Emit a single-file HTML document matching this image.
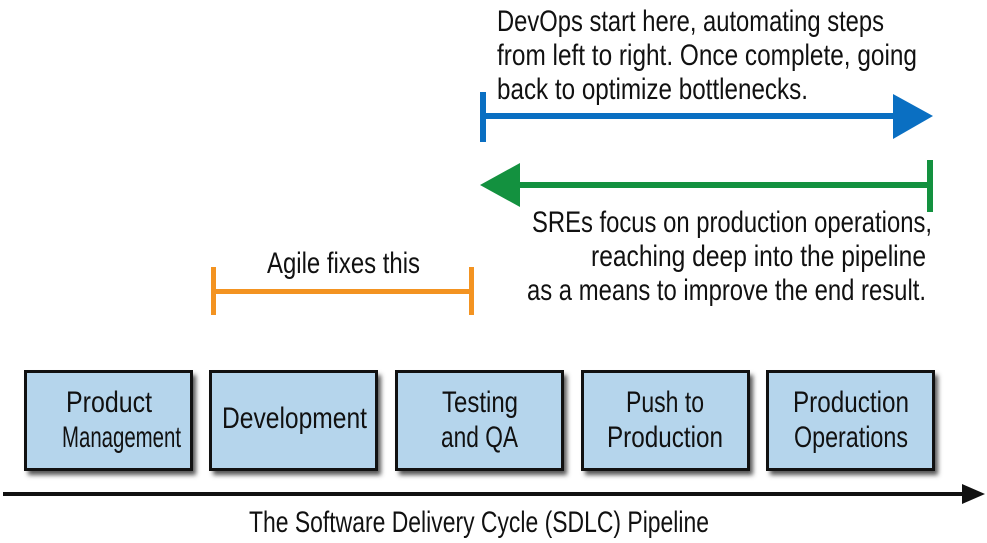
<!DOCTYPE html>
<html><head><meta charset="utf-8"><style>
html,body{margin:0;padding:0;background:#fff;width:987px;height:543px;overflow:hidden}
text{font-family:"Liberation Sans",sans-serif;fill:#111}
</style></head><body>
<svg width="987" height="543" viewBox="0 0 987 543" xmlns="http://www.w3.org/2000/svg">
<defs><filter id="sh" x="-10%" y="-10%" width="130%" height="130%"><feGaussianBlur stdDeviation="2.5"/></filter></defs>
<g font-size="30">
<text x="497" y="31" textLength="387" lengthAdjust="spacingAndGlyphs">DevOps start here, automating steps</text>
<text x="497" y="65" textLength="420" lengthAdjust="spacingAndGlyphs">from left to right. Once complete, going</text>
<text x="497" y="99" textLength="311" lengthAdjust="spacingAndGlyphs">back to optimize bottlenecks.</text>
<text x="532" y="232" textLength="400" lengthAdjust="spacingAndGlyphs">SREs focus on production operations,</text>
<text x="591" y="266" textLength="335" lengthAdjust="spacingAndGlyphs">reaching deep into the pipeline</text>
<text x="527" y="300" textLength="399" lengthAdjust="spacingAndGlyphs">as a means to improve the end result.</text>
<text x="267" y="273" textLength="153" lengthAdjust="spacingAndGlyphs">Agile fixes this</text>
</g>
<rect x="480" y="92" width="6" height="50" fill="#0a6fc2"/>
<rect x="480" y="113" width="415" height="6" fill="#0a6fc2"/>
<polygon points="893,94 933,116 893,139" fill="#0a6fc2"/>
<rect x="927" y="160" width="6" height="52" fill="#13913f"/>
<rect x="518" y="182" width="412" height="6" fill="#13913f"/>
<polygon points="520,163 480,185 520,207" fill="#13913f"/>
<rect x="211" y="267" width="5" height="48" fill="#f39321"/>
<rect x="469" y="267" width="5" height="48" fill="#f39321"/>
<rect x="211" y="289" width="263" height="5" fill="#f39321"/>
<g>
<rect x="28" y="375" width="168" height="100" fill="#555" filter="url(#sh)"/>
<rect x="213" y="375" width="168" height="100" fill="#555" filter="url(#sh)"/>
<rect x="399" y="375" width="168" height="100" fill="#555" filter="url(#sh)"/>
<rect x="585" y="375" width="168" height="100" fill="#555" filter="url(#sh)"/>
<rect x="770" y="375" width="168" height="100" fill="#555" filter="url(#sh)"/>
<rect x="25.5" y="371.5" width="166" height="98" fill="#b5d5ec" stroke="#111" stroke-width="3"/>
<rect x="210.5" y="371.5" width="166" height="98" fill="#b5d5ec" stroke="#111" stroke-width="3"/>
<rect x="396.5" y="371.5" width="166" height="98" fill="#b5d5ec" stroke="#111" stroke-width="3"/>
<rect x="582.5" y="371.5" width="166" height="98" fill="#b5d5ec" stroke="#111" stroke-width="3"/>
<rect x="767.5" y="371.5" width="166" height="98" fill="#b5d5ec" stroke="#111" stroke-width="3"/>
</g>
<g font-size="30">
<text x="66" y="412" textLength="86" lengthAdjust="spacingAndGlyphs">Product</text>
<text x="62" y="447" textLength="119" lengthAdjust="spacingAndGlyphs">Management</text>
<text x="222" y="428" textLength="145" lengthAdjust="spacingAndGlyphs">Development</text>
<text x="442" y="412" textLength="76" lengthAdjust="spacingAndGlyphs">Testing</text>
<text x="441" y="447" textLength="77" lengthAdjust="spacingAndGlyphs">and QA</text>
<text x="626" y="412" textLength="78" lengthAdjust="spacingAndGlyphs">Push to</text>
<text x="607" y="447" textLength="116" lengthAdjust="spacingAndGlyphs">Production</text>
<text x="793" y="412" textLength="116" lengthAdjust="spacingAndGlyphs">Production</text>
<text x="794" y="447" textLength="114" lengthAdjust="spacingAndGlyphs">Operations</text>
</g>
<rect x="3" y="492" width="962" height="4" fill="#111"/>
<polygon points="962,484 985,494 962,504" fill="#111"/>
<text x="249" y="532" font-size="30" textLength="460" lengthAdjust="spacingAndGlyphs">The Software Delivery Cycle (SDLC) Pipeline</text>
</svg>
</body></html>
